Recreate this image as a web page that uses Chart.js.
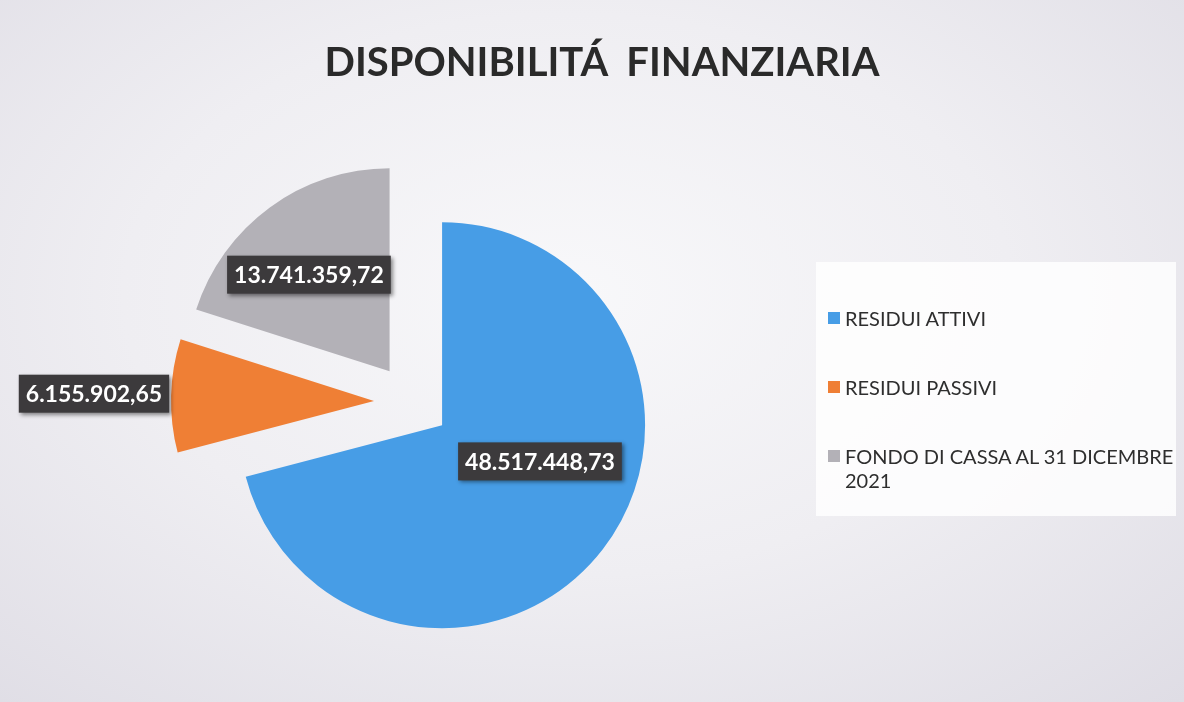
<!DOCTYPE html>
<html lang="it">
<head>
<meta charset="utf-8">
<title>Disponibilità finanziaria</title>
<script src="https://cdn.jsdelivr.net/npm/chart.js@4.4.1/dist/chart.umd.min.js"></script>
<style>
  html, body { margin: 0; padding: 0; }
  body {
    width: 1184px;
    height: 702px;
    overflow: hidden;
    position: relative;
    background: radial-gradient(ellipse 75% 80% at 48% 42%, #f8f8fa 0%, #efeef2 50%, #dfdde5 100%);
    font-family: Lato, "Open Sans", sans-serif;
  }
  #chart { position: absolute; left: 0; top: 0; }
  #title {
    position: absolute;
    left: 0;
    width: 1204px;
    top: 41px;
    line-height: 40px;
    text-align: center;
    font-weight: 700;
    font-size: 40px;
    color: #2a2a2a;
    white-space: pre;
  }
  #legend {
    position: absolute;
    left: 816px;
    top: 262px;
    width: 360px;
    height: 254px;
    background: rgba(255, 255, 255, 0.82);
  }
  .item {
    position: relative;
    left: 12px;
    display: flex;
    align-items: flex-start;
    width: 346px;
    margin-bottom: 45px;
    font-size: 20px;
    line-height: 24px;
    color: #2e2e2e;
  }
  .item:first-child { margin-top: 44px; }
  .swatch { flex: none; width: 12px; height: 12px; margin: 6px 5px 0 0; }
</style>
</head>
<body>
<canvas id="chart" width="1184" height="702"></canvas>
<div id="title"></div>
<div id="legend"></div>
<script>
const chartTitle = "DISPONIBILITÁ  FINANZIARIA";
const categories = ["RESIDUI ATTIVI", "RESIDUI PASSIVI", "FONDO DI CASSA AL 31 DICEMBRE 2021"];
const amounts = [48517448.73, 6155902.65, 13741359.72];
const sliceColors = ["#479de6", "#ef7f35", "#b3b1b7"];

// how far every slice is pulled out from the centre (px)
const SLICE_SHIFT = 38;

function formatIt(v) {
  const [int, dec] = v.toFixed(2).split(".");
  return int.replace(/\B(?=(\d{3})+(?!\d))/g, ".") + "," + dec;
}

// move each arc outwards along its mid angle, keeping its radius
const explode = {
  id: "explode",
  beforeDatasetDraw(chart, args) {
    args.meta.data.forEach((arc) => {
      if (arc._exploded) return;
      arc._exploded = true;
      const draw = arc.draw;
      arc.draw = function (ctx, area) {
        const mid = (this.startAngle + this.endAngle) / 2;
        ctx.save();
        ctx.translate(Math.cos(mid) * SLICE_SHIFT, Math.sin(mid) * SLICE_SHIFT);
        draw.call(this, ctx, area);
        ctx.restore();
      };
    });
  },
};

// dark value boxes like the Excel data labels
const sliceLabels = {
  id: "sliceLabels",
  afterDatasetsDraw(chart, args, opts) {
    const { ctx } = chart;
    const meta = chart.getDatasetMeta(0);
    const values = chart.data.datasets[0].data;
    ctx.save();
    ctx.font = `700 ${opts.size}px Lato, "Open Sans", sans-serif`;
    ctx.textAlign = "center";
    ctx.textBaseline = "middle";
    meta.data.forEach((arc, i) => {
      const p = opts.place[i];
      const mid = (arc.startAngle + arc.endAngle) / 2;
      const vx = arc.x + Math.cos(mid) * SLICE_SHIFT;
      const vy = arc.y + Math.sin(mid) * SLICE_SHIFT;
      const a = arc.startAngle + p.t * (arc.endAngle - arc.startAngle);
      const x = vx + Math.cos(a) * p.r * arc.outerRadius;
      const y = vy + Math.sin(a) * p.r * arc.outerRadius;
      const text = formatIt(values[i]);
      const w = ctx.measureText(text).width + opts.padX * 2;
      const h = opts.boxH;
      ctx.shadowColor = "rgba(0,0,0,0.45)";
      ctx.shadowBlur = 4;
      ctx.shadowOffsetX = 2;
      ctx.shadowOffsetY = 2;
      ctx.fillStyle = "#3c3a3c";
      ctx.fillRect(x - w / 2, y - h / 2, w, h);
      ctx.shadowColor = "transparent";
      ctx.fillStyle = "#ffffff";
      ctx.fillText(text, x, y + 1);
    });
    ctx.restore();
  },
};

document.getElementById("title").textContent = chartTitle;

const legend = document.getElementById("legend");
categories.forEach((name, i) => {
  const item = document.createElement("div");
  item.className = "item";
  const sw = document.createElement("span");
  sw.className = "swatch";
  sw.style.background = sliceColors[i];
  const tx = document.createElement("span");
  tx.textContent = name;
  item.appendChild(sw);
  item.appendChild(tx);
  legend.appendChild(item);
});

new Chart(document.getElementById("chart"), {
  type: "pie",
  data: {
    labels: categories,
    datasets: [
      {
        data: amounts,
        backgroundColor: sliceColors,
        borderWidth: 0,
        radius: 203,
      },
    ],
  },
  options: {
    responsive: false,
    animation: false,
    events: [],
    layout: {
      padding: { left: 0, right: 360, top: 102, bottom: 0 },
    },
    plugins: {
      legend: { display: false },
      tooltip: { enabled: false },
      sliceLabels: {
        size: 23,
        padX: 7,
        boxH: 38,
        place: [
          { t: 0.432, r: 0.514 },
          { t: 0.5, r: 1.38 },
          { t: 0.449, r: 0.62 },
        ],
      },
    },
  },
  plugins: [explode, sliceLabels],
});
</script>
</body>
</html>
